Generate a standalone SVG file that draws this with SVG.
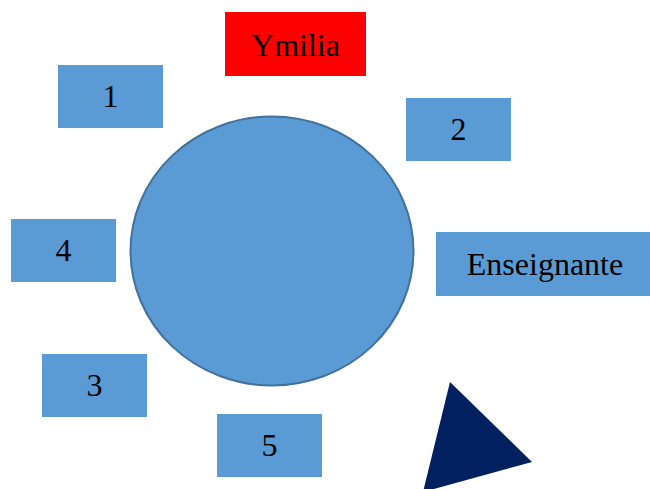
<svg xmlns="http://www.w3.org/2000/svg" width="650" height="489" viewBox="0 0 650 489">
<style>
.b{fill:#5B9BD5}
.t{font-family:"Liberation Serif","Times New Roman",serif;font-size:32px;fill:#000;text-anchor:middle}
</style>
<rect width="650" height="489" fill="#fff"/>
<g id="table"><ellipse cx="272" cy="251" rx="141.5" ry="134.5" fill="#5B9BD5" stroke="#41719C" stroke-width="2"/></g>
<g id="ymilia"><rect x="225" y="12" width="141" height="64" fill="#FF0000"/><text class="t" x="295.5" y="55.5">Ymilia</text></g>
<g id="n1"><rect class="b" x="58" y="65" width="105" height="63"/><text class="t" x="110.5" y="107">1</text></g>
<g id="n2"><rect class="b" x="406" y="98" width="105" height="63"/><text class="t" x="458.5" y="140">2</text></g>
<g id="n4"><rect class="b" x="11" y="219" width="105" height="63"/><text class="t" x="63.5" y="261">4</text></g>
<g id="ens"><rect class="b" x="436" y="232" width="214" height="64"/><text class="t" x="545" y="275">Enseignante</text></g>
<g id="n3"><rect class="b" x="42" y="354" width="105" height="63"/><text class="t" x="94.5" y="396">3</text></g>
<g id="n5"><rect class="b" x="217" y="414" width="105" height="63"/><text class="t" x="269.5" y="456">5</text></g>
<g id="tri"><polygon points="450,382 532,462 423,492" fill="#002060"/></g>
<g id="connectors"></g>
</svg>
